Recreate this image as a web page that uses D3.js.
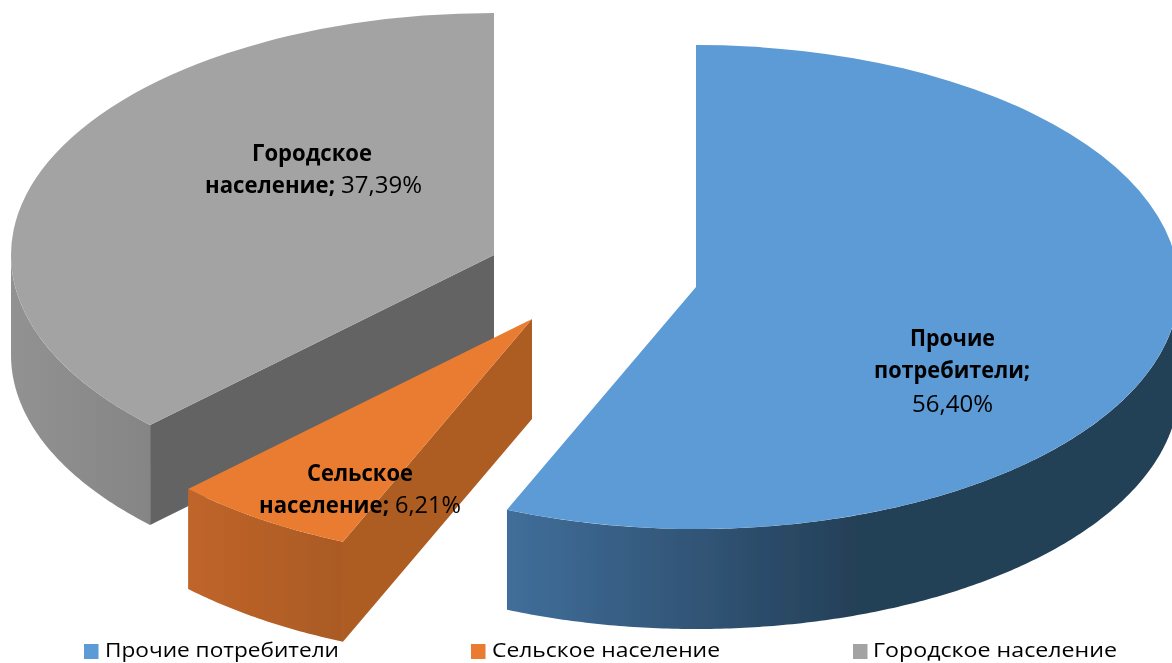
<!DOCTYPE html>
<html lang="ru">
<head>
<meta charset="utf-8">
<script src="https://cdn.jsdelivr.net/npm/d3@7"></script>
<style>
html,body{margin:0;padding:0;background:#fff;overflow:hidden}
svg{display:block}
text{font-family:"Open Sans","Noto Sans",sans-serif;fill:#000}
</style>
</head>
<body>
<script>
// ---- data ----
const categories = ["Прочие потребители", "Сельское население", "Городское население"];
const shares = [56.40, 6.21, 37.39];
const shareLabels = ["56,40%", "6,21%", "37,39%"];
const labelNames = [["Прочие", "потребители;"], ["Сельское", "население;"], ["Городское", "население;"]];

// ---- styles ----
const topColors = ["#5b9bd5", "#ea7c30", "#a3a3a3"];
const innerColors = ["#406e9a", "#ad5c24", "#636363"];
const wallStops = [["#406e9a", "#243f57"], ["#c0652a", "#aa5a24"], ["#929292", "#858585"]];

// ---- layout ----
const W = 1172, H = 663, rx = 483, ry = 242, depth = 100;
const apexes = [[696, 287], [532, 319], [494, 255]];
const wallGrad = [[507, 860], [188, 343], [11, 150]];
const drawOrder = [2, 0, 1];
const labelLayout = [
  {lines: [[{k: "n0", x0: 910, x1: 995}], [{k: "n1", x0: 874, x1: 1030}], [{k: "v", x0: 912, x1: 993}]], base: [346, 378, 412], size: 23},
  {lines: [[{k: "n0", x0: 307, x1: 413}], [{k: "n1", x0: 259, x1: 389}, {k: "v", x0: 395, x1: 461}]], base: [481, 513], size: 23},
  {lines: [[{k: "n0", x0: 252, x1: 372}], [{k: "n1", x0: 205, x1: 335}, {k: "v", x0: 341, x1: 422}]], base: [161, 193], size: 23}
];
const legendLayout = [{sq: 84, x0: 105, x1: 339}, {sq: 471, x0: 492, x1: 720}, {sq: 853, x0: 873, x1: 1117}];

const svg = d3.select("body").append("svg").attr("width", W).attr("height", H).attr("viewBox", [0, 0, W, H]);
const defs = svg.append("defs");
defs.append("filter").attr("id", "soft").attr("x", "-2%").attr("y", "-2%").attr("width", "104%").attr("height", "104%")
  .append("feGaussianBlur").attr("stdDeviation", 0.45);

const slices = d3.pie().sort(null).value(d => d)(shares);
const arc = d3.arc().innerRadius(0).outerRadius(rx);
const yScale = ry / rx;

categories.forEach((c, i) => {
  const g = defs.append("linearGradient").attr("id", "wall" + i).attr("gradientUnits", "userSpaceOnUse")
    .attr("x1", wallGrad[i][0]).attr("x2", wallGrad[i][1]).attr("y1", 0).attr("y2", 0);
  g.append("stop").attr("offset", 0).attr("stop-color", wallStops[i][0]);
  g.append("stop").attr("offset", 1).attr("stop-color", wallStops[i][1]);
});

const px = (i, a) => apexes[i][0] + rx * Math.sin(a);
const py = (i, a) => apexes[i][1] - ry * Math.cos(a);
const wallArea = i => d3.area().x(a => px(i, a)).y0(a => py(i, a)).y1(a => py(i, a) + depth);

const chart = svg.append("g").attr("filter", "url(#soft)");
drawOrder.forEach(i => {
  const s = slices[i];
  const g = chart.append("g").attr("class", "slice");
  // flat cut face toward the viewer (the first slice shows none)
  if (i !== 0) {
    const ax = apexes[i][0], ay = apexes[i][1], ex = px(i, s.startAngle), ey = py(i, s.startAngle);
    g.append("path").attr("fill", innerColors[i])
      .attr("d", d3.line()([[ax, ay], [ex, ey], [ex, ey + depth], [ax, ay + depth]]) + "Z");
  }
  // curved outer wall over the part of the rim facing the viewer
  const a0 = Math.max(s.startAngle, Math.PI / 2), a1 = Math.min(s.endAngle, Math.PI * 1.5);
  if (a1 > a0) {
    const steps = d3.range(a0, a1, 0.01).concat([a1]);
    g.append("path").attr("fill", `url(#wall${i})`).attr("d", wallArea(i)(steps));
  }
  // top face
  g.append("path").attr("fill", topColors[i])
    .attr("transform", `translate(${apexes[i][0]},${apexes[i][1]}) scale(1,${yScale})`)
    .attr("d", arc(s));
});

// data labels
const textLayer = svg.append("g").attr("filter", "url(#soft)");
labelLayout.forEach((L, i) => {
  L.lines.forEach((line, li) => {
    line.forEach(p => {
      const str = p.k === "v" ? shareLabels[i] : labelNames[i][p.k === "n0" ? 0 : 1];
      textLayer.append("text")
        .attr("x", p.x0).attr("y", L.base[li])
        .attr("font-size", L.size)
        .attr("font-weight", p.k === "v" ? 400 : 700)
        .attr("textLength", p.x1 - p.x0).attr("lengthAdjust", "spacingAndGlyphs")
        .text(str);
    });
  });
});

// legend
categories.forEach((c, i) => {
  const L = legendLayout[i];
  textLayer.append("rect").attr("x", L.sq).attr("y", 644).attr("width", 14.5).attr("height", 15).attr("fill", topColors[i]);
  textLayer.append("text").attr("x", L.x0).attr("y", 657).attr("font-size", 20)
    .attr("textLength", L.x1 - L.x0).attr("lengthAdjust", "spacingAndGlyphs").text(c);
});
</script>
</body>
</html>
